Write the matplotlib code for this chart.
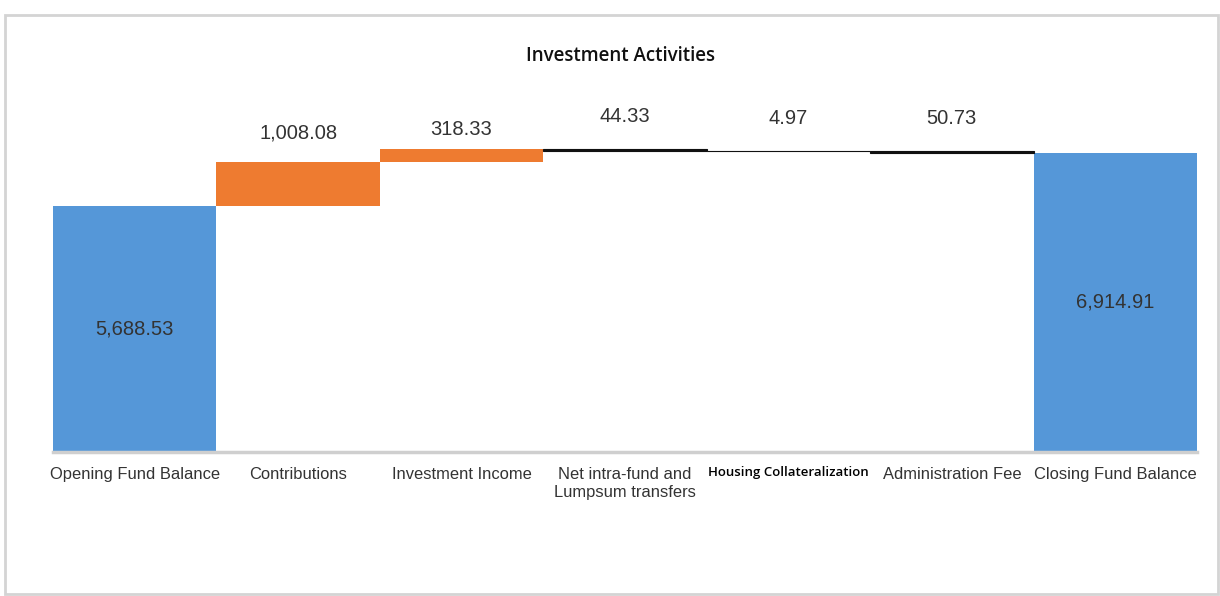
import matplotlib
matplotlib.use("Agg")
import matplotlib.pyplot as plt
from matplotlib.patches import Rectangle

categories = ["Opening Fund Balance", "Contributions", "Investment Income",
              "Net intra-fund and\nLumpsum transfers", "Housing Collateralization",
              "Administration Fee", "Closing Fund Balance"]
opening = 5688.53
changes = [1008.08, 318.33, -44.33, -4.97, -50.73]
closing = 6914.91

BLUE = "#5597D8"
ORANGE = "#EE7B30"
TEXT = "#333333"

fig = plt.figure(figsize=(12.2, 5.96), dpi=100)
fig.patch.set_facecolor("white")

# light border round the whole chart
fig.add_artist(Rectangle((5 / 1220, 2 / 596), 1213 / 1220, 579 / 596,
                         transform=fig.transFigure, fill=False,
                         edgecolor="#d4d4d4", linewidth=2))

ax = fig.add_axes([53 / 1220, 144 / 596, 1144 / 1220, 346 / 596])

x = list(range(len(categories)))

# totals
ax.bar(x[0], opening, width=1.0, color=BLUE)
ax.bar(x[-1], closing, width=1.0, color=BLUE)

# running steps
running = opening
tops = []
for i, v in enumerate(changes, start=1):
    if v >= 0:
        ax.bar(x[i], v, bottom=running, width=1.0, color=ORANGE)
        tops.append(running + v)
    else:
        ax.bar(x[i], -v, bottom=running + v, width=1.0, color="#111111",
               edgecolor="#111111", linewidth=0.8)
        tops.append(running)
    running += v

label_font = dict(family=["Liberation Sans", "DejaVu Sans"], size=14.5, color=TEXT)

# values above the step bars (offsets in points)
offsets = [21, 14, 23, 23, 23]
for i, (v, top) in enumerate(zip(changes, tops), start=1):
    ax.annotate(f"{abs(v):,.2f}", (x[i], top), xytext=(0, offsets[i - 1]),
                textcoords="offset points", ha="center", va="center", **label_font)

# values inside the totals
ax.text(x[0], opening / 2, f"{opening:,.2f}", ha="center", va="center", **label_font)
ax.text(x[-1], closing / 2, f"{closing:,.2f}", ha="center", va="center", **label_font)

ax.set_xlim(-0.5, len(categories) - 0.5)
ax.set_ylim(0, 8000)
ax.set_yticks([])
ax.set_xticks(x)
ax.set_xticklabels(categories, family=["Liberation Sans", "DejaVu Sans"],
                   fontsize=11.9, color=TEXT, linespacing=1.25)
ax.tick_params(axis="x", length=0, pad=11)

hc = ax.get_xticklabels()[4]
hc.set_fontfamily(["Open Sans", "DejaVu Sans"])
hc.set_fontweight("semibold")
hc.set_fontsize(9.5)
hc.set_color("black")
hc.set_y(0.0035)

for side in ["top", "left", "right"]:
    ax.spines[side].set_visible(False)
ax.spines["bottom"].set_color("#cfcfcf")
ax.spines["bottom"].set_linewidth(2.5)

fig.text(620 / 1220, 1 - 56 / 596, "Investment Activities", ha="center", va="center",
         family=["Open Sans", "DejaVu Sans"], fontweight="semibold", fontsize=13.5,
         color="#111111")

fig.savefig("out.png", dpi=100)
